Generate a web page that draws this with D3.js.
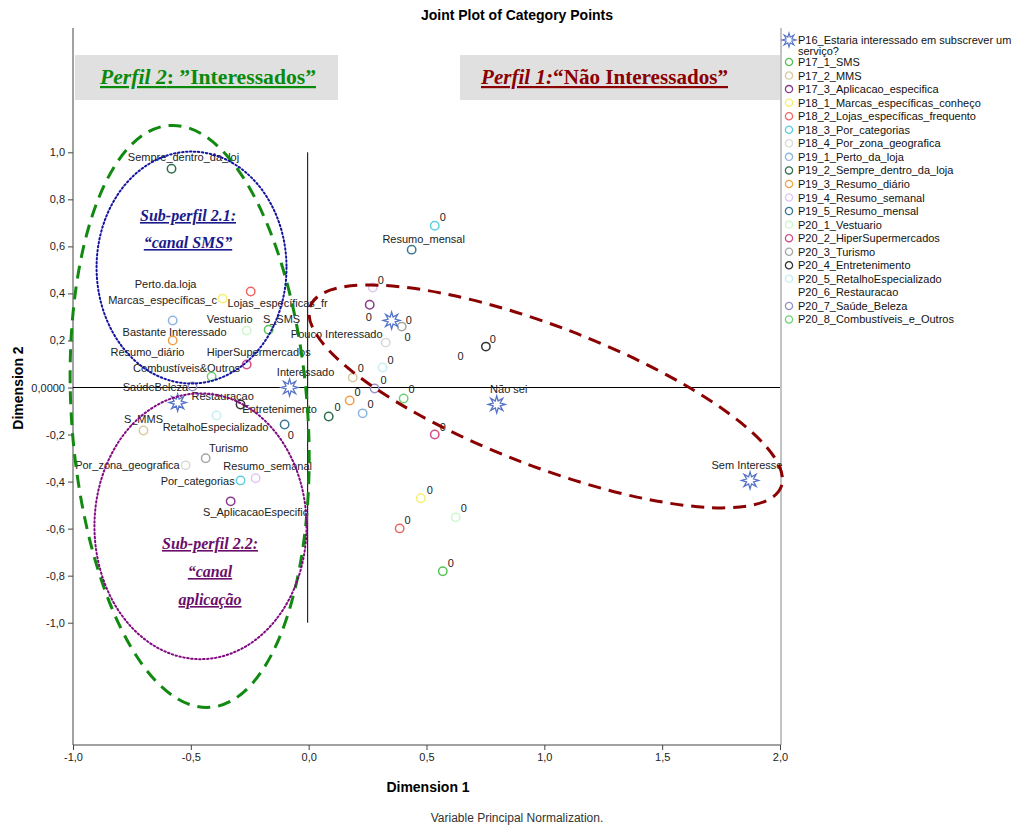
<!DOCTYPE html>
<html>
<head>
<meta charset="utf-8">
<script src="https://cdnjs.cloudflare.com/ajax/libs/d3/7.8.5/d3.min.js"></script>
<style>
  body { margin:0; background:#fff; }
  text { font-family: Arial, "Liberation Sans", sans-serif; }
</style>
</head>
<body>
<svg id="chart" width="1013" height="827"></svg>
<script>

// legend / series names (P16 first, then the category variables)
var seriesNames = ["P16_Estaria interessado em subscrever um|serviço?", "P17_1_SMS", "P17_2_MMS",
  "P17_3_Aplicacao_especifica", "P18_1_Marcas_específicas_conheço", "P18_2_Lojas_específicas_frequento",
  "P18_3_Por_categorias", "P18_4_Por_zona_geografica", "P19_1_Perto_da_loja", "P19_2_Sempre_dentro_da_loja",
  "P19_3_Resumo_diário", "P19_4_Resumo_semanal", "P19_5_Resumo_mensal", "P20_1_Vestuario",
  "P20_2_HiperSupermercados", "P20_3_Turismo", "P20_4_Entretenimento", "P20_5_RetalhoEspecializado",
  "P20_6_Restauracao", "P20_7_Saúde_Beleza", "P20_8_Combustíveis_e_Outros"];

var seriesColours = ["#5573c8", "#55c255", "#d6ca9c", "#8a3a8a", "#f5ef72", "#f06464", "#5ccfdc", "#d9d9d9",
  "#8db6e0", "#2f6e4e", "#f0a048", "#dfc6f2", "#3b7894", "#cdf6cd", "#d24e8a", "#a6a6a6", "#333333",
  "#c6eff3", "none", "#9891c2", "#6dd275"];

// category points: [series index, category label, dim1, dim2, label dim1, label dim2]
var categoryPoints = [
  [0, "Bastante Interessado", -0.556, -0.064, -0.569, 0.238],
  [0, "Interessado", -0.081, 0.000, -0.013, 0.068],
  [0, "Pouco Interessado", 0.352, 0.285, 0.119, 0.229],
  [0, "Não sei", 0.798, -0.072, 0.849, -0.008],
  [0, "Sem Interesse", 1.873, -0.395, 1.860, -0.331],
  [1, "S_SMS", -0.170, 0.246, -0.115, 0.293], [1, "0", 0.569, -0.781, 0.603, -0.747],
  [2, "S_MMS", -0.701, -0.183, -0.701, -0.132], [2, "0", 0.187, 0.042, 0.221, 0.081],
  [3, "S_AplicacaoEspecific", -0.331, -0.484, -0.225, -0.531], [3, "0", 0.259, 0.352, 0.255, 0.301],
  [4, "Marcas_específicas_c", -0.365, 0.378, -0.620, 0.374], [4, "0", 0.476, -0.471, 0.514, -0.437],
  [5, "Lojas_específicas_fr", -0.246, 0.408, -0.132, 0.361], [5, "0", 0.386, -0.599, 0.420, -0.565],
  [6, "Por_categorias", -0.289, -0.395, -0.471, -0.399], [6, "0", 0.535, 0.688, 0.569, 0.726],
  [7, "Por_zona_geografica", -0.522, -0.331, -0.769, -0.331], [7, "0", 0.327, 0.191, 0.420, 0.216],
  [8, "Perto.da.loja", -0.577, 0.285, -0.607, 0.442], [8, "0", 0.229, -0.110, 0.263, -0.072],
  [9, "Sempre_dentro_da_loj", -0.582, 0.930, -0.531, 0.981], [9, "0", 0.085, -0.123, 0.123, -0.085],
  [10, "Resumo_diário", -0.577, 0.200, -0.684, 0.153], [10, "0", 0.174, -0.055, 0.208, -0.021],
  [11, "Resumo_semanal", -0.225, -0.386, -0.174, -0.335], [11, "0", 0.272, 0.425, 0.306, 0.459],
  [12, "Resumo_mensal", 0.437, 0.586, 0.488, 0.633], [12, "0", -0.102, -0.157, -0.076, -0.204],
  [13, "Vestuario", -0.263, 0.242, -0.335, 0.293], [13, "0", 0.624, -0.552, 0.658, -0.514],
  [14, "HiperSupermercados", -0.263, 0.098, -0.212, 0.153], [14, "0", 0.535, -0.200, 0.569, -0.166],
  [15, "Turismo", -0.437, -0.301, -0.340, -0.259], [15, "0", 0.395, 0.259, 0.425, 0.289],
  [16, "Entretenimento", -0.289, -0.072, -0.123, -0.093], [16, "0", 0.752, 0.174, 0.781, 0.208],
  [17, "RetalhoEspecializado", -0.391, -0.119, -0.395, -0.170], [17, "0", 0.314, 0.085, 0.348, 0.119],
  [18, "Restauracao", -0.365, -0.085, -0.365, -0.038], [18, "0", 0.611, 0.093, 0.645, 0.132],
  [19, "SaúdeBeleza", -0.493, 0.004, -0.650, 0.004], [19, "0", 0.280, -0.004, 0.318, 0.030],
  [20, "Combustíveis&Outros", -0.412, 0.047, -0.518, 0.085], [20, "0", 0.403, -0.047, 0.437, -0.008]
];

var xTicks = [-1, -0.5, 0, 0.5, 1, 1.5, 2];
var yTicks = [-1, -0.8, -0.6, -0.4, -0.2, 0, 0.2, 0.4, 0.6, 0.8, 1];

// profile ellipses drawn by hand on the original: centre, radii (data units), rotation
var profileEllipses = [
  {name:"perfil2", c:[-0.505, -0.123], r:[0.501, 1.24], rot:-4, colour:"#128a12", width:3, dash:"13,8"},
  {name:"sub21", c:[-0.497, 0.510], r:[0.403, 0.493], rot:0, colour:"#1414a0", width:2, dash:"1.5,2.5"},
  {name:"sub22", c:[-0.459, -0.590], r:[0.450, 0.565], rot:0, colour:"#800a80", width:2, dash:"1.5,2.5"},
  {name:"perfil1", c:[1.006, -0.038], r:[1.07, 0.297], rot:21, colour:"#8b0000", width:3, dash:"13,8"}
];

var svg = d3.select("#chart");

var xScale = d3.scaleLinear().domain([-1, 2]).range([73, 780]);
var yScale = d3.scaleLinear().domain([-1.52, 1.52]).range([745, 30]);

// SPSS style: decimal comma, plain hyphen for minus
var fmtComma = function(v){
  var s = Math.abs(v).toFixed(1).replace(".", ",");
  return (v < 0 ? "-" : "") + s;
};

// title
svg.append("text").attr("x", 517).attr("y", 20).attr("text-anchor","middle")
  .style("font-size","14px").style("font-weight","bold").text("Joint Plot of Category Points");

// header boxes
svg.append("rect").attr("x",75).attr("y",55).attr("width",263).attr("height",45).attr("fill","#e0e0e0");
svg.append("rect").attr("x",460).attr("y",55).attr("width",320).attr("height",45).attr("fill","#e0e0e0");

var h2 = svg.append("text").attr("x",100).attr("y",84)
  .attr("textLength",216).attr("lengthAdjust","spacingAndGlyphs")
  .style("font-family","'Liberation Serif','Times New Roman',serif").style("font-size","22px")
  .style("font-weight","bold").style("text-decoration","underline").attr("fill","#0a8a0a");
h2.append("tspan").style("font-style","italic").text("Perfil 2");
h2.append("tspan").style("font-style","normal").text(": ”Interessados”");

var h1 = svg.append("text").attr("x",481).attr("y",84)
  .attr("textLength",247).attr("lengthAdjust","spacingAndGlyphs")
  .style("font-family","'Liberation Serif','Times New Roman',serif").style("font-size","22px")
  .style("font-weight","bold").style("text-decoration","underline").attr("fill","#8b0000");
h1.append("tspan").style("font-style","italic").text("Perfil 1:");
h1.append("tspan").style("font-style","normal").text("“Não Interessados”");

// axes
var xAxis = d3.axisBottom(xScale).tickValues(xTicks).tickSize(5).tickSizeOuter(0).tickFormat(fmtComma);
var yAxis = d3.axisLeft(yScale).tickValues(yTicks).tickSize(5).tickSizeOuter(0)
  .tickFormat(function(d){ return d === 0 ? "0,0000" : fmtComma(d); });

var gx = svg.append("g").attr("transform","translate(0,745)").call(xAxis);
var gy = svg.append("g").attr("transform","translate(73,0)").call(yAxis);
[gx, gy].forEach(function(g){
  g.select(".domain").attr("stroke","#444");
  g.selectAll(".tick line").attr("stroke","#444");
  g.selectAll(".tick text").style("font-size","11px").style("font-family","Arial, sans-serif").attr("fill","#222");
});
gy.select(".domain").attr("d","M0,28V745");
gx.select(".domain").attr("d","M73,0H781");

// right frame line
svg.append("line").attr("x1",781).attr("x2",781).attr("y1",28).attr("y2",745).attr("stroke","#888");

// reference lines at zero
svg.append("line").attr("x1",xScale(-1)).attr("x2",xScale(2)).attr("y1",yScale(0)).attr("y2",yScale(0))
  .attr("stroke","#000").attr("stroke-width",1);
svg.append("line").attr("x1",xScale(0)-1).attr("x2",xScale(0)-1).attr("y1",yScale(1)).attr("y2",yScale(-1))
  .attr("stroke","#000").attr("stroke-width",1);

// axis titles
svg.append("text").attr("x",428).attr("y",792).attr("text-anchor","middle")
  .style("font-size","14px").style("font-weight","bold").text("Dimension 1");
svg.append("text").attr("transform","translate(23,388) rotate(-90)").attr("text-anchor","middle")
  .style("font-size","14px").style("font-weight","bold").text("Dimension 2");
svg.append("text").attr("x",517).attr("y",822).attr("text-anchor","middle")
  .style("font-size","12px").attr("fill","#333").text("Variable Principal Normalization.");

// star symbol for P16
function starPath(ro, ri, n){
  var pts = [];
  for (var i=0;i<n*2;i++){
    var r = i%2===0 ? ro : ri, a = Math.PI*i/n - Math.PI/2;
    pts.push([r*Math.cos(a), r*Math.sin(a)]);
  }
  return "M" + pts.map(function(p){ return p[0].toFixed(2)+","+p[1].toFixed(2); }).join("L") + "Z";
}

var pointsGroup = svg.append("g");
var pts = categoryPoints.map(function(d){
  return {s:d[0], label:d[1], x:d[2], y:d[3], lx:d[4], ly:d[5]};
});

// labels first (markers over them)
pointsGroup.selectAll("text.lbl").data(pts).enter().append("text")
  .attr("class","lbl")
  .attr("x", d=>xScale(d.lx)).attr("y", d=>yScale(d.ly))
  .attr("text-anchor","middle").attr("dominant-baseline","central")
  .style("font-size","11px").attr("fill","#222")
  .text(d=>d.label);

pointsGroup.selectAll("circle").data(pts.filter(d=>d.s>0)).enter().append("circle")
  .attr("cx", d=>xScale(d.x)).attr("cy", d=>yScale(d.y)).attr("r",4.2)
  .attr("fill","none").attr("stroke", d=>seriesColours[d.s]).attr("stroke-width",1.5);

pointsGroup.selectAll("path.star").data(pts.filter(d=>d.s===0)).enter().append("path")
  .attr("class","star")
  .attr("transform", d=>"translate("+xScale(d.x)+","+yScale(d.y)+")")
  .attr("d", starPath(8.5, 3.8, 8))
  .attr("fill","#fff").attr("stroke", seriesColours[0]).attr("stroke-width",1.3);

// profile ellipses
svg.append("g").selectAll("ellipse").data(profileEllipses).enter().append("ellipse")
  .attr("transform", d=>"translate("+xScale(d.c[0])+","+yScale(d.c[1])+") rotate("+d.rot+")")
  .attr("rx", d=>xScale(d.r[0])-xScale(0)).attr("ry", d=>yScale(0)-yScale(d.r[1]))
  .attr("fill","none").attr("stroke", d=>d.colour).attr("stroke-width", d=>d.width)
  .attr("stroke-dasharray", d=>d.dash).attr("stroke-linecap", d=>d.width<3 ? "round" : "butt");

// sub-profile captions
function caption(lines, x, y0, step, colour){
  lines.forEach(function(t,i){
    svg.append("text").attr("x",x).attr("y",y0+i*step).attr("text-anchor","middle")
      .style("font-family","'Liberation Serif','Times New Roman',serif").style("font-size","16px")
      .style("font-weight","bold").style("font-style","italic").style("text-decoration","underline")
      .attr("fill",colour).text(t);
  });
}
caption(["Sub-perfil 2.1:", "“canal SMS”"], 188, 221, 27, "#1a1a8c");
caption(["Sub-perfil 2.2:", "“canal", "aplicação"], 210, 549, 28, "#6a0e6a");

// legend
var legend = svg.append("g").attr("transform","translate(789,40)");
var rowY = 0;
seriesNames.forEach(function(name, i){
  var lines = name.split("|");
  var g = legend.append("g").attr("transform","translate(0,"+rowY+")");
  if (i===0) {
    g.append("path").attr("d", starPath(7, 3, 8)).attr("fill","#fff")
      .attr("stroke", seriesColours[0]).attr("stroke-width",1.1);
  } else if (seriesColours[i] !== "none") {
    g.append("circle").attr("r",3.6).attr("fill","none").attr("stroke",seriesColours[i]).attr("stroke-width",1.3);
  }
  lines.forEach(function(t,k){
    g.append("text").attr("x",9).attr("y",k*10.5).attr("dominant-baseline","central")
      .style("font-size","11px").attr("fill","#111").text(t);
  });
  rowY += (i===0 ? 22 : 13.55);
});

</script>
</body>
</html>
